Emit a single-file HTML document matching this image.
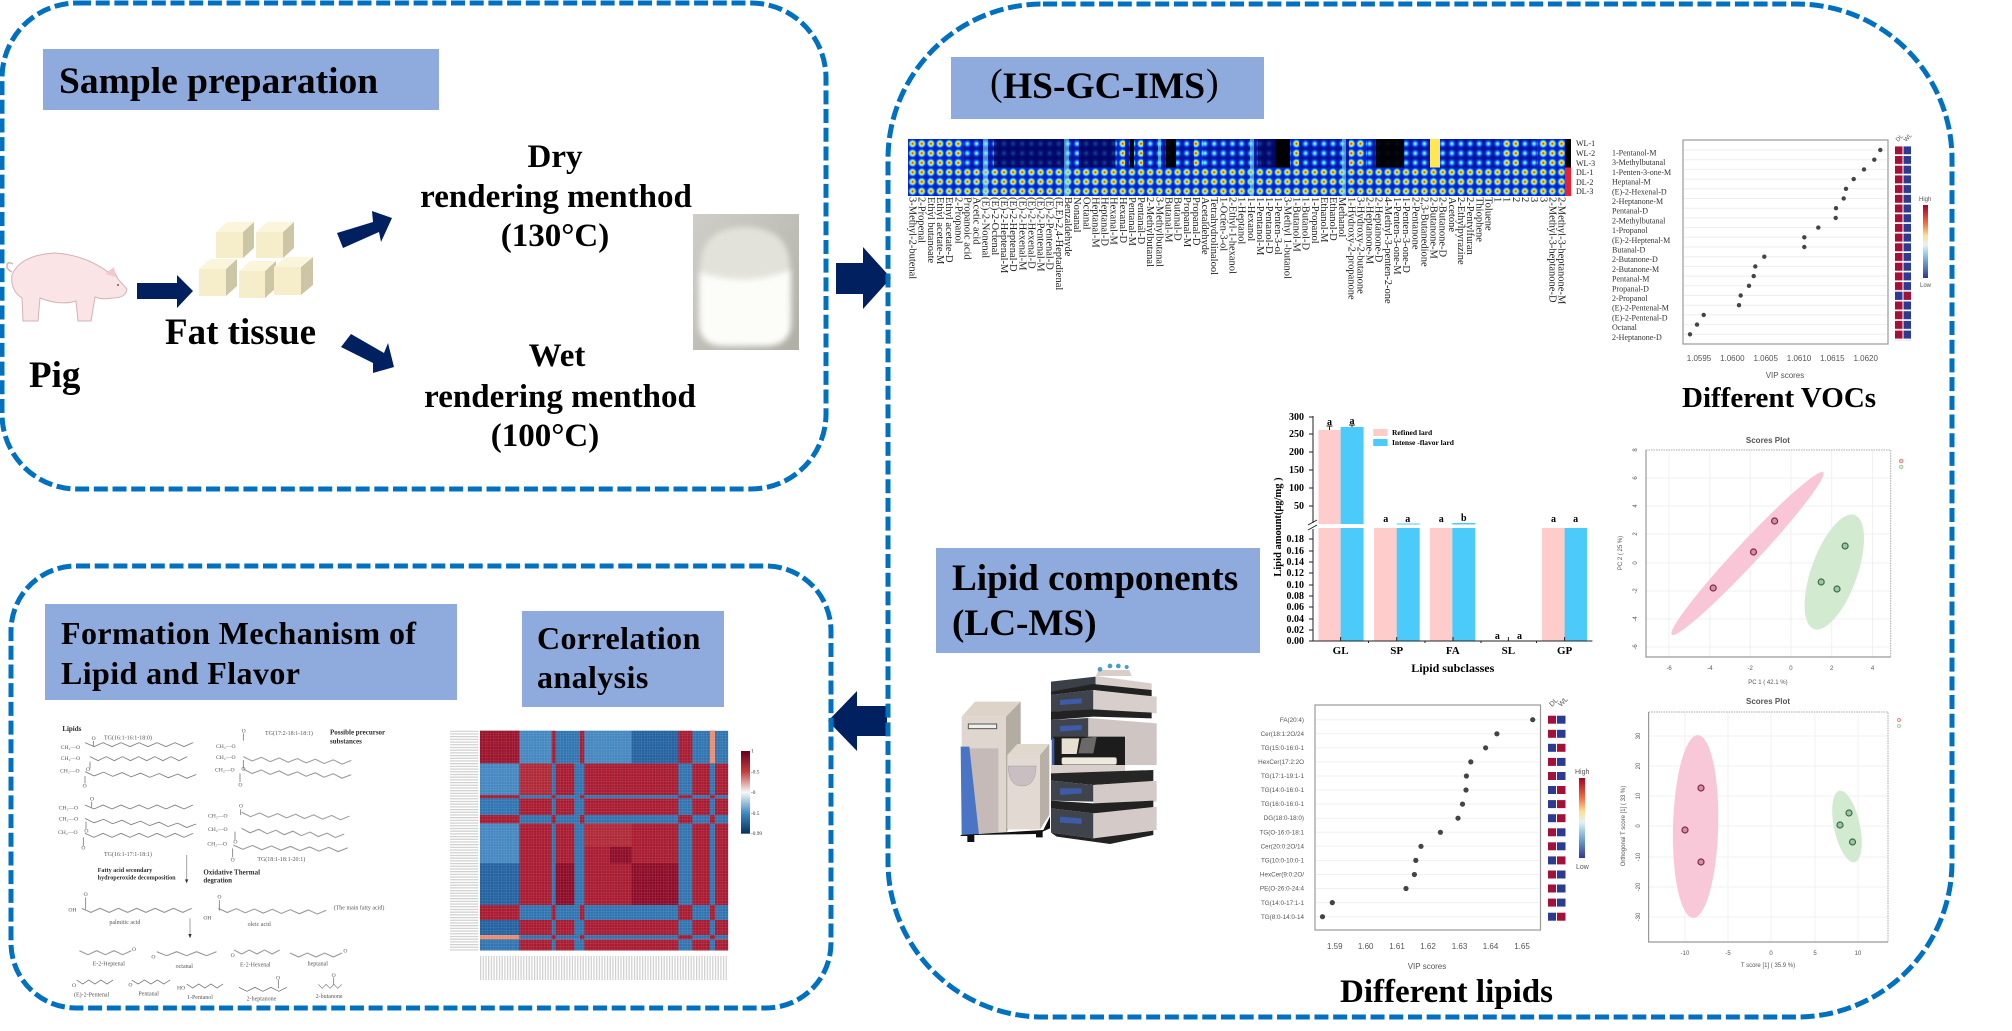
<!DOCTYPE html>
<html><head><meta charset="utf-8"><style>
html,body{margin:0;padding:0;background:#fff}
svg{display:block}
text{font-family:"Liberation Serif","Noto Serif CJK SC",serif}
.b{font-weight:bold;fill:#000}
.s,.s text{font-family:"Liberation Sans",sans-serif;fill:#555}
</style></head><body>
<svg width="2012" height="1031" viewBox="0 0 2012 1031" xmlns="http://www.w3.org/2000/svg">
<defs>
<radialGradient id="hot"><stop offset="0" stop-color="#e01010"/><stop offset=".2" stop-color="#ff8000"/><stop offset=".36" stop-color="#ffe820"/><stop offset=".56" stop-color="#60f0e8"/><stop offset=".8" stop-color="#1458f4"/><stop offset="1" stop-color="#0a20c8"/></radialGradient>
<radialGradient id="cool"><stop offset="0" stop-color="#d8ffff"/><stop offset=".32" stop-color="#38b4ff"/><stop offset=".65" stop-color="#0c38e0"/><stop offset="1" stop-color="#06149c"/></radialGradient>
<pattern id="hotP" patternUnits="userSpaceOnUse" x="908" y="139" width="9.14" height="9.5"><rect width="9.14" height="9.5" fill="url(#hot)"/></pattern>
<pattern id="coolP" patternUnits="userSpaceOnUse" x="908" y="139" width="9.14" height="9.5"><rect width="9.14" height="9.5" fill="url(#cool)"/></pattern>
<pattern id="vr" patternUnits="userSpaceOnUse" x="0" y="146.3" width="20" height="9.7"><rect width="20" height="8" fill="#a5103a"/></pattern>
<pattern id="vb" patternUnits="userSpaceOnUse" x="0" y="146.3" width="20" height="9.7"><rect width="20" height="8" fill="#2d3a94"/></pattern>
<pattern id="gr" patternUnits="userSpaceOnUse" x="120" y="32" width="8.1" height="8.1"><path d="M8.1 0V8.1H0" fill="none" stroke="#fff" stroke-width="1.1" opacity=".38"/></pattern>
<pattern id="lh" patternUnits="userSpaceOnUse" x="0" y="32" width="10" height="8.1"><rect width="10" height="3.6" fill="#666"/></pattern>
<pattern id="lv" patternUnits="userSpaceOnUse" x="120" y="0" width="8.1" height="10"><rect width="3.6" height="10" fill="#666"/></pattern>
<linearGradient id="cbR" x1="0" y1="0" x2="0" y2="1"><stop offset="0" stop-color="#a50026"/><stop offset=".25" stop-color="#f46d43"/><stop offset=".42" stop-color="#fee090"/><stop offset=".55" stop-color="#e0f3f8"/><stop offset=".75" stop-color="#74add1"/><stop offset="1" stop-color="#313695"/></linearGradient>
<linearGradient id="cbC" x1="0" y1="0" x2="0" y2="1"><stop offset="0" stop-color="#67001f"/><stop offset=".25" stop-color="#c43c3c"/><stop offset=".5" stop-color="#f7f7f7"/><stop offset=".75" stop-color="#3f8bc0"/><stop offset="1" stop-color="#053061"/></linearGradient>
<linearGradient id="mb" x1="0" y1="0" x2="1" y2="1"><stop offset="0" stop-color="#cfcec8"/><stop offset="1" stop-color="#b0afa6"/></linearGradient>
<filter id="bl"><feGaussianBlur stdDeviation="3"/></filter>
<path id="z" d="M0 0l27 12 27-12 27 12 27-12 27 12 27-12 27 12 27-12 27 12 27-12 27 12 27-12" fill="none" stroke="#666" stroke-width="2.4"/>
<path id="z6" d="M0 0l26 12 26-12 26 12 26-12 26 12 26-12" fill="none" stroke="#666" stroke-width="2.4"/>
<clipPath id="rowP"><rect x="120" y="32" width="745" height="98"/><rect x="120" y="225" width="745" height="10"/><rect x="120" y="285" width="745" height="25"/><rect x="120" y="555" width="745" height="45"/><rect x="120" y="645" width="745" height="13"/></clipPath>
<clipPath id="rowN"><rect x="120" y="130" width="745" height="95"/><rect x="120" y="235" width="745" height="50"/><rect x="120" y="310" width="745" height="245"/><rect x="120" y="600" width="745" height="45"/><rect x="120" y="658" width="745" height="34"/></clipPath>
</defs>

<!-- connector arrows -->
<polygon points="836,263 863,263 863,247 891,278 863,309 863,294 836,294" fill="#002060"/>
<polygon points="887,706 857,706 857,691 828,721 857,751 857,736 887,736" fill="#002060"/>

<!-- panels -->
<g fill="none" stroke="#0070c0" stroke-width="5" stroke-dasharray="14 4.7">
<rect x="2" y="3" width="824" height="486" rx="75" ry="75"/>
<rect x="888" y="4" width="1064" height="1013" rx="155" ry="155"/>
<rect x="11" y="566" width="820" height="442" rx="65" ry="65"/>
</g>

<!-- sample preparation -->
<rect x="43" y="49" width="396" height="61" fill="#8faadc"/>
<text x="59" y="93" class="b" font-size="37.5">Sample preparation</text>
<g>
<path d="M12 275Q20 255 55 253Q85 255 108 272L113 269L118 279L127 289Q126 298 113 298Q102 300 95 297L91 321H78L76 301Q60 306 40 298L38 321H23L22 298Q10 290 12 275Z" fill="#fbe4e6" stroke="#d2b3b8" stroke-width="1"/>
<path d="M12 272q-6-3-5-7t6-1" fill="none" stroke="#d2b3b8" stroke-width="1.5"/>
<path d="M105 274l9-7 2 10z" fill="#f3c9cf"/>
<circle cx="118" cy="285" r="1" fill="#755"/>
</g>
<polygon points="137,283 177,283 177,275 193,291 177,308 177,299 137,299" fill="#002060"/>
<g>
<g fill="#cdc6a6"><polygon points="243,232 254,222 254,248 243,258"/><polygon points="283,232 294,222 294,248 283,258"/><polygon points="226,269 237,259 237,286 226,296"/><polygon points="265,271 276,261 276,288 265,298"/><polygon points="301,267 313,257 313,285 301,295"/></g>
<g fill="#fbf5dc"><polygon points="216,232 227,222 254,222 243,232"/><polygon points="256,232 267,222 294,222 283,232"/><polygon points="199,269 210,259 237,259 226,269"/><polygon points="239,271 250,261 276,261 265,271"/><polygon points="274,267 285,257 313,257 301,267"/></g>
<g fill="#f6eecb"><rect x="216" y="232" width="27" height="26"/><rect x="256" y="232" width="27" height="26"/><rect x="199" y="269" width="27" height="27"/><rect x="239" y="271" width="26" height="27"/><rect x="274" y="267" width="27" height="28"/></g>
</g>
<text x="165" y="344" class="b" font-size="37">Fat tissue</text>
<text x="29" y="387" class="b" font-size="37">Pig</text>
<polygon points="337,233 373,222 372,211 392,218 381,242 379,232 343,248" fill="#002060"/>
<polygon points="351,334 384,353 388,343 394,367 373,373 373,363 341,347" fill="#002060"/>
<g class="b" font-size="33" text-anchor="middle">
<text x="555" y="167">Dry</text><text x="556" y="207">rendering menthod</text><text x="555" y="246">(130°C)</text>
<text x="557" y="366">Wet</text><text x="560" y="407">rendering menthod</text><text x="545" y="446">(100°C)</text>
</g>
<!-- milk photo -->
<rect x="693" y="214" width="106" height="136" fill="url(#mb)"/>
<g filter="url(#bl)">
<path d="M700 268Q700 228 745 227Q790 228 790 268V320Q790 345 765 345H725Q700 345 700 320Z" fill="#e3e2da"/>
<path d="M699 272Q745 288 791 270V322Q791 346 765 346H725Q699 346 699 322Z" fill="#fcfcf9"/>
</g>

<!-- HS-GC-IMS -->
<rect x="951" y="57" width="313" height="62" fill="#8faadc"/>
<text x="990" y="95" font-size="38" fill="#000">(</text>
<text x="1003" y="98" class="b" font-size="37.5">HS-GC-IMS</text>
<text x="1206" y="95" font-size="38" fill="#000">)</text>

<!-- fingerprint heatmap -->
<rect x="908" y="139" width="657" height="57" fill="#0a20c8"/>
<rect x="908" y="139" width="657" height="28.5" fill="url(#coolP)"/>
<rect x="908" y="167.5" width="657" height="28.5" fill="url(#hotP)"/>
<g fill="url(#hotP)">
<rect x="908" y="139" width="56" height="28.5"/><rect x="1116" y="139" width="9" height="28.5"/><rect x="1134" y="139" width="9" height="28.5"/><rect x="1194" y="139" width="9.2" height="28.5"/><rect x="1349" y="139" width="18" height="28.5"/><rect x="1501" y="139" width="18" height="28.5"/><rect x="1537" y="139" width="28" height="28.5"/><rect x="1290" y="139" width="9" height="28.5"/>
</g>
<g fill="#00045a" opacity=".78"><rect x="994" y="139" width="71" height="28.5"/><rect x="1079" y="139" width="36" height="28.5"/><rect x="1258" y="139" width="32" height="28.5"/></g>
<g fill="#000" opacity=".95"><rect x="1166" y="139" width="10" height="28.5"/><rect x="1130" y="139" width="4" height="28.5"/><rect x="1376" y="139" width="28" height="28.5"/><rect x="1275" y="139" width="15" height="28.5"/></g>
<g fill="#7ce8f0" opacity=".55"><rect x="1064" y="139" width="5" height="57"/><rect x="983" y="139" width="5" height="57"/><rect x="1158" y="139" width="3" height="28.5"/><rect x="1250" y="139" width="4" height="57"/><rect x="1342" y="139" width="4" height="57"/></g>
<rect x="1430" y="139" width="10" height="28.5" fill="#ffe850"/>
<rect x="1565" y="139" width="6" height="28.5" fill="#000"/><rect x="1565" y="167.5" width="6" height="28.5" fill="#ee2030"/>
<g font-size="8" fill="#222"><text x="1576" y="146">WL-1</text><text x="1576" y="156">WL-2</text><text x="1576" y="166">WL-3</text><text x="1576" y="175">DL-1</text><text x="1576" y="185">DL-2</text><text x="1576" y="194">DL-3</text></g>
<g transform="translate(908,197) rotate(90)" font-size="10.5" fill="#222">
<text y="-1.6">3-Methyl-2-butenal</text><text y="-10.7">2-Propenal</text><text y="-19.9">Ethyl butanoate</text><text y="-29">Ethyl acetate-M</text><text y="-38.2">Ethyl acetate-D</text><text y="-47.3">2-Propanol</text><text y="-56.4">Propanoic acid</text><text y="-65.6">Acetic acid</text><text y="-74.7">(E)-2-Nonenal</text><text y="-83.9">(E)-2-Octenal</text><text y="-93">(E)-2-Heptenal-M</text><text y="-102.1">(E)-2-Heptenal-D</text><text y="-111.3">(E)-2-Hexenal-M</text><text y="-120.4">(E)-2-Hexenal-D</text><text y="-129.6">(E)-2-Pentenal-M</text><text y="-138.7">(E)-2-Pentenal-D</text><text y="-147.8">(E,E)-2,4-Heptadienal</text><text y="-157">Benzaldehyde</text><text y="-166.1">Nonanal</text><text y="-175.3">Octanal</text><text y="-184.4">Heptanal-M</text><text y="-193.5">Heptanal-D</text><text y="-202.7">Hexanal-M</text><text y="-211.8">Hexanal-D</text><text y="-221">Pentanal-M</text><text y="-230.1">Pentanal-D</text><text y="-239.2">2-Methylbutanal</text><text y="-248.4">3-Methylbutanal</text><text y="-257.5">Butanal-M</text><text y="-266.7">Butanal-D</text><text y="-275.8">Propanal-M</text><text y="-284.9">Propanal-D</text><text y="-294.1">Acetaldehyde</text><text y="-303.2">Tetrahydrolinalool</text><text y="-312.4">1-Octen-3-ol</text><text y="-321.5">2-Ethyl-1-hexanol</text><text y="-330.6">1-Heptanol</text><text y="-339.8">1-Hexanol</text><text y="-348.9">1-Pentanol-M</text><text y="-358.1">1-Pentanol-D</text><text y="-367.2">1-Penten-3-ol</text><text y="-376.3">3-Methyl 1-butanol</text><text y="-385.5">1-Butanol-M</text><text y="-394.6">1-Butanol-D</text><text y="-403.8">1-Propanol</text><text y="-412.9">Ethanol-M</text><text y="-422">Ethanol-D</text><text y="-431.2">Methanol</text><text y="-440.3">1-Hydroxy-2-propanone</text><text y="-449.5">3-Hydroxy-2-butanone</text><text y="-458.6">2-Heptanone-M</text><text y="-467.7">2-Heptanone-D</text><text y="-476.9">4-Methyl-3-penten-2-one</text><text y="-486">1-Penten-3-one-M</text><text y="-495.2">1-Penten-3-one-D</text><text y="-504.3">2-Pentanone</text><text y="-513.4">2,3-Butanedione</text><text y="-522.6">2-Butanone-M</text><text y="-531.7">2-Butanone-D</text><text y="-540.9">Acetone</text><text y="-550">2-Ethylpyrazine</text><text y="-559.1">2-Pentylfuran</text><text y="-568.3">Thiophene</text><text y="-577.4">Toluene</text><text y="-586.6">1</text><text y="-595.7">1</text><text y="-604.8">2</text><text y="-614">2</text><text y="-623.1">3</text><text y="-632.3">3</text><text y="-641.4">2-Methyl-3-heptanone-D</text><text y="-650.5">2-Methyl-3-heptanone-M</text>
</g>

<!-- VOC VIP -->
<rect x="1683" y="140" width="205" height="204" fill="#fff" stroke="#999" stroke-width="1.2"/>
<g stroke="#eee" stroke-width="1"><path d="M1684 150H1887M1684 159.7H1887M1684 169.4H1887M1684 179.1H1887M1684 188.8H1887M1684 198.5H1887M1684 208.2H1887M1684 217.9H1887M1684 227.6H1887M1684 237.3H1887M1684 247H1887M1684 256.7H1887M1684 266.4H1887M1684 276.1H1887M1684 285.8H1887M1684 295.5H1887M1684 305.2H1887M1684 314.9H1887M1684 324.6H1887M1684 334.3H1887"/></g>
<g fill="#444"><circle cx="1880.3" cy="150" r="2.2"/><circle cx="1874.3" cy="159.7" r="2.2"/><circle cx="1864" cy="169.4" r="2.2"/><circle cx="1853.7" cy="179.1" r="2.2"/><circle cx="1846" cy="188.8" r="2.2"/><circle cx="1843.7" cy="198.5" r="2.2"/><circle cx="1836" cy="208.2" r="2.2"/><circle cx="1835.7" cy="217.9" r="2.2"/><circle cx="1818.3" cy="227.6" r="2.2"/><circle cx="1804.3" cy="237.3" r="2.2"/><circle cx="1804.3" cy="247" r="2.2"/><circle cx="1764.3" cy="256.7" r="2.2"/><circle cx="1755.3" cy="266.4" r="2.2"/><circle cx="1753.7" cy="276.1" r="2.2"/><circle cx="1749" cy="285.8" r="2.2"/><circle cx="1740.7" cy="295.5" r="2.2"/><circle cx="1739" cy="305.2" r="2.2"/><circle cx="1703.7" cy="314.9" r="2.2"/><circle cx="1697" cy="324.6" r="2.2"/><circle cx="1690" cy="334.3" r="2.2"/></g>
<g font-size="8" fill="#333"><text x="1612" y="155.5">1-Pentanol-M</text><text x="1612" y="165.2">3-Methylbutanal</text><text x="1612" y="174.9">1-Penten-3-one-M</text><text x="1612" y="184.6">Heptanal-M</text><text x="1612" y="194.3">(E)-2-Hexenal-D</text><text x="1612" y="204">2-Heptanone-M</text><text x="1612" y="213.7">Pentanal-D</text><text x="1612" y="223.4">2-Methylbutanal</text><text x="1612" y="233.1">1-Propanol</text><text x="1612" y="242.8">(E)-2-Heptenal-M</text><text x="1612" y="252.5">Butanal-D</text><text x="1612" y="262.2">2-Butanone-D</text><text x="1612" y="271.9">2-Butanone-M</text><text x="1612" y="281.6">Pentanal-M</text><text x="1612" y="291.3">Propanal-D</text><text x="1612" y="301">2-Propanol</text><text x="1612" y="310.7">(E)-2-Pentenal-M</text><text x="1612" y="320.4">(E)-2-Pentenal-D</text><text x="1612" y="330.1">Octanal</text><text x="1612" y="339.8">2-Heptanone-D</text></g>
<rect x="1895" y="146.3" width="7.5" height="194" fill="url(#vr)"/><rect x="1903.5" y="146.3" width="7.5" height="194" fill="url(#vb)"/>
<rect x="1895" y="291.8" width="7.5" height="8" fill="#2d3a94"/><rect x="1903.5" y="291.8" width="7.5" height="8" fill="#a5103a"/>
<rect x="1923" y="205" width="5" height="73" fill="url(#cbR)"/>
<g class="s" font-size="6"><text x="1919" y="201">High</text><text x="1920" y="287">Low</text><text transform="translate(1898,142) rotate(-45)">DL</text><text transform="translate(1906,142) rotate(-45)">WL</text></g>
<g class="s" font-size="8" text-anchor="middle"><text x="1699" y="361">1.0595</text><text x="1732.3" y="361">1.0600</text><text x="1765.7" y="361">1.0605</text><text x="1799" y="361">1.0610</text><text x="1832.3" y="361">1.0615</text><text x="1865.7" y="361">1.0620</text><text x="1785" y="378">VIP scores</text></g>
<text x="1682" y="407" class="b" font-size="29">Different VOCs</text>

<!-- bar chart -->
<g fill="#ffcccc"><rect x="1318.5" y="430" width="22" height="94"/><rect x="1318.5" y="528" width="22" height="113"/><rect x="1374" y="528" width="22.7" height="113"/><rect x="1429.8" y="528" width="22.5" height="113"/><rect x="1542" y="528" width="22.6" height="113"/></g>
<g fill="#4acbf9"><rect x="1340.6" y="427" width="23" height="97"/><rect x="1340.6" y="528" width="23" height="113"/><rect x="1396.7" y="528" width="23" height="113"/><rect x="1452.3" y="528" width="23" height="113"/><rect x="1564.6" y="528" width="22.4" height="113"/><rect x="1396.7" y="523.5" width="23" height="1"/><rect x="1452.3" y="523" width="23" height="1.5"/></g>
<path d="M1313 416V523M1313 529V641H1592.4M1313 417h-4M1313 434h-4M1313 452h-4M1313 470h-4M1313 488h-4M1313 506h-4M1313 539h-4M1313 551h-4M1313 562h-4M1313 573h-4M1313 585h-4M1313 596h-4M1313 607h-4M1313 619h-4M1313 630h-4M1313 641h-4M1340.6 641v-4M1396.7 641v-4M1453 641v-4M1508.4 641v-4M1564.6 641v-4M1368.5 641v2M1425 641v2M1481 641v2M1536.5 641v2M1308 525l9-5M1308 530l9-5M1329.5 426v4M1326.5 426h6M1352 425v2M1349 425h6" fill="none" stroke="#222" stroke-width="1"/>
<g class="b" font-size="10" text-anchor="end"><text x="1304" y="420">300</text><text x="1304" y="437">250</text><text x="1304" y="455">200</text><text x="1304" y="473">150</text><text x="1304" y="491">100</text><text x="1304" y="509">50</text><text x="1304" y="542">0.18</text><text x="1304" y="554">0.16</text><text x="1304" y="565">0.14</text><text x="1304" y="576">0.12</text><text x="1304" y="588">0.10</text><text x="1304" y="599">0.08</text><text x="1304" y="610">0.06</text><text x="1304" y="622">0.04</text><text x="1304" y="633">0.02</text><text x="1304" y="644">0.00</text></g>
<g class="b" font-size="10" text-anchor="middle"><text x="1329.5" y="425">a</text><text x="1352" y="424">a</text><text x="1385.7" y="522">a</text><text x="1407.7" y="522">a</text><text x="1441.3" y="522">a</text><text x="1463.8" y="521">b</text><text x="1497.4" y="639">a</text><text x="1519.5" y="639">a</text><text x="1553.5" y="522">a</text><text x="1575.6" y="522">a</text></g>
<g class="b" font-size="11" text-anchor="middle"><text x="1340.6" y="654">GL</text><text x="1396.7" y="654">SP</text><text x="1452.8" y="654">FA</text><text x="1508.4" y="654">SL</text><text x="1564.6" y="654">GP</text></g>
<text x="1452.8" y="672" class="b" font-size="12" text-anchor="middle">Lipid subclasses</text>
<text transform="translate(1281,527) rotate(-90)" class="b" font-size="10.5" text-anchor="middle">Lipid amount(μg/mg )</text>
<rect x="1373.2" y="429" width="14.4" height="7" fill="#ffcccc"/><rect x="1373.2" y="439" width="14.4" height="7" fill="#4acbf9"/>
<text x="1392" y="435" class="b" font-size="7.5" fill="#222">Refined lard</text><text x="1392" y="445" class="b" font-size="7.5" fill="#222">Intense -flavor lard</text>

<!-- PCA -->
<g class="s"><text x="1767.9" y="443" font-size="8" font-weight="bold" text-anchor="middle">Scores Plot</text></g>
<path d="M1669 450V657M1709.9 450V657M1750.2 450V657M1790.9 450V657M1831.7 450V657M1872.5 450V657M1646 478H1890.7M1646 506H1890.7M1646 534H1890.7M1646 563H1890.7M1646 591H1890.7M1646 619H1890.7M1646 647H1890.7" stroke="#f0f0f0" stroke-width="1"/>
<ellipse cx="1747.5" cy="553.5" rx="111" ry="11" transform="rotate(-47 1747.5 553.5)" fill="#f8c6d6"/>
<ellipse cx="1834.3" cy="572" rx="60.5" ry="23" transform="rotate(-70.3 1834.3 572)" fill="#d2ead0"/>
<path d="M1646 450V657H1890.7" fill="none" stroke="#999" stroke-width="1.2"/><path d="M1646 450H1890.7V657" fill="none" stroke="#aaa" stroke-width="1" stroke-dasharray="1.5 1"/>
<g fill="#d98ca6" stroke="#7a2b48" stroke-width="1.2"><circle cx="1713.2" cy="588" r="3"/><circle cx="1753.5" cy="552" r="3"/><circle cx="1774.6" cy="521" r="3"/></g>
<g fill="#9cc79c" stroke="#3b6b4b" stroke-width="1.2"><circle cx="1821.2" cy="582" r="3"/><circle cx="1837" cy="589" r="3"/><circle cx="1845.1" cy="546" r="3"/></g>
<circle cx="1901.2" cy="461" r="1.8" fill="#f4c6d6" stroke="#d88"/><circle cx="1901.2" cy="467" r="1.8" fill="#d8ecd6" stroke="#ac9"/>
<g class="s" font-size="6" text-anchor="middle"><text x="1669" y="670">-6</text><text x="1709.9" y="670">-4</text><text x="1750.2" y="670">-2</text><text x="1790.9" y="670">0</text><text x="1831.7" y="670">2</text><text x="1872.5" y="670">4</text><text x="1767.9" y="684">PC 1 ( 42.1 %)</text><text transform="translate(1622,553) rotate(-90)">PC 2 ( 25 %)</text>
<text transform="translate(1637,450) rotate(-90)">8</text><text transform="translate(1637,478) rotate(-90)">6</text><text transform="translate(1637,506) rotate(-90)">4</text><text transform="translate(1637,534) rotate(-90)">2</text><text transform="translate(1637,563) rotate(-90)">0</text><text transform="translate(1637,591) rotate(-90)">-2</text><text transform="translate(1637,619) rotate(-90)">-4</text><text transform="translate(1637,647) rotate(-90)">-6</text></g>

<!-- Lipid components -->
<rect x="936" y="548" width="324" height="105" fill="#8faadc"/>
<text x="952" y="590" class="b" font-size="37.2">Lipid components</text>
<text x="952" y="635" class="b" font-size="37.2">(LC-MS)</text>
<g transform="translate(930,540) scale(.33333)">
<polygon points="95,530 135,485 272,485 228,530" fill="#ddd3c8"/><polygon points="228,530 272,485 272,800 228,880" fill="#b3aca2"/><rect x="95" y="530" width="133" height="350" fill="#ded6cf"/>
<rect x="118" y="625" width="87" height="255" fill="#c5bab8"/><polygon points="92,620 118,620 147,885 95,885" fill="#4a75c4"/><rect x="115" y="552" width="85" height="14" fill="#f0eeea" stroke="#555" stroke-width="3"/>
<polygon points="92,885 340,870 360,830 360,865 338,875 338,892 318,892 318,882 133,885 133,906 112,906 112,888 92,888" fill="#111"/>
<polygon points="232,645 262,612 358,612 330,645" fill="#e0d8cc"/><polygon points="330,645 358,612 358,825 330,868" fill="#b8b0a6"/><rect x="232" y="645" width="98" height="223" fill="#e2dad2"/>
<path d="M235 678H318Q318 738 276 738Q235 738 235 678Z" fill="#c8bfc2" stroke="#888" stroke-width="1"/>
<path d="M498 408L505 390H598L605 408Z" fill="#d8cfc8"/><g fill="#4a9bc8"><circle cx="510" cy="388" r="7"/><circle cx="540" cy="378" r="7"/><circle cx="565" cy="378" r="7"/><circle cx="590" cy="381" r="6"/></g>
<polygon points="363,425 497,410 497,440 363,455" fill="#3b4048"/><polygon points="497,408 665,430 665,452 497,432" fill="#d8cfcb"/><polygon points="363,455 490,432 665,450 665,472 490,450 363,465" fill="#222"/>
<polygon points="363,465 490,450 490,510 363,515" fill="#3e434c"/><polygon points="490,450 680,470 680,520 490,510" fill="#d8cfcc"/><polygon points="390,480 455,475 455,490 390,495" fill="#3f5ba8"/>
<polygon points="363,515 490,508 665,518 665,535 490,530 363,540" fill="#222"/>
<polygon points="363,540 475,534 475,590 363,600" fill="#3e434c"/><polygon points="475,534 680,550 680,675 475,675" fill="#cfc5c2"/><polygon points="390,558 455,555 455,570 390,575" fill="#3f5ba8"/>
<rect x="370" y="590" width="215" height="85" fill="#1c1c1c"/><polygon points="395,595 448,595 440,642 395,642" fill="#e5e0cf"/><polygon points="455,595 500,590 490,640 445,640" fill="#6b6868"/>
<rect x="365" y="595" width="8" height="80" fill="#3f5ba8"/><rect x="395" y="652" width="165" height="22" rx="6" fill="#eeeade"/><rect x="363" y="675" width="222" height="25" fill="#d8cfcc"/>
<polygon points="363,700 670,690 670,725 490,735 363,722" fill="#262626"/>
<polygon points="363,722 490,735 490,785 363,782" fill="#3e434c"/><polygon points="490,735 680,722 680,785 490,790" fill="#d4cbc8"/><polygon points="390,745 455,745 455,760 390,765" fill="#3f5ba8"/>
<polygon points="363,782 490,790 670,782 670,808 490,820 363,805" fill="#222"/>
<polygon points="363,805 490,820 490,895 363,878" fill="#3e434c"/><polygon points="490,820 680,800 680,870 490,895" fill="#d4cbc8"/><polygon points="390,830 455,835 455,852 390,848" fill="#3f5ba8"/>
<polygon points="363,878 490,895 670,872 670,885 540,912 380,890" fill="#222"/>
</g>

<!-- lipid VIP -->
<rect x="1315" y="705" width="225.5" height="225" fill="#fff" stroke="#999" stroke-width="1.2"/>
<path d="M1316 719.7H1540M1316 733.8H1540M1316 747.8H1540M1316 761.9H1540M1316 776H1540M1316 790H1540M1316 804.1H1540M1316 818.2H1540M1316 832.3H1540M1316 846.3H1540M1316 860.4H1540M1316 874.5H1540M1316 888.5H1540M1316 902.6H1540M1316 916.7H1540" stroke="#f0f0f0"/>
<g fill="#444"><circle cx="1532.7" cy="719.7" r="2.6"/><circle cx="1496.9" cy="733.8" r="2.6"/><circle cx="1485.6" cy="747.8" r="2.6"/><circle cx="1470.8" cy="761.9" r="2.6"/><circle cx="1466.4" cy="776" r="2.6"/><circle cx="1466" cy="790" r="2.6"/><circle cx="1462.5" cy="804.1" r="2.6"/><circle cx="1458" cy="818.2" r="2.6"/><circle cx="1440.4" cy="832.3" r="2.6"/><circle cx="1421" cy="846.3" r="2.6"/><circle cx="1415.8" cy="860.4" r="2.6"/><circle cx="1414.4" cy="874.5" r="2.6"/><circle cx="1406" cy="888.5" r="2.6"/><circle cx="1332.3" cy="902.6" r="2.6"/><circle cx="1322.5" cy="916.7" r="2.6"/></g>
<g class="s" font-size="6.3" text-anchor="end"><text x="1304" y="722">FA(20:4)</text><text x="1304" y="736">Cer(18:1:2O/24</text><text x="1304" y="750">TG(15:0-16:0-1</text><text x="1304" y="764">HexCer(17:2:2O</text><text x="1304" y="778">TG(17:1-19:1-1</text><text x="1304" y="792">TG(14:0-16:0-1</text><text x="1304" y="806">TG(16:0-16:0-1</text><text x="1304" y="820">DG(18:0-18:0)</text><text x="1304" y="834.5">TG(O-16:0-18:1</text><text x="1304" y="848.5">Cer(20:0:2O/14</text><text x="1304" y="862.5">TG(10:0-10:0-1</text><text x="1304" y="876.5">HexCer(9:0:2O/</text><text x="1304" y="890.5">PE(O-26:0-24:4</text><text x="1304" y="905">TG(14:0-17:1-1</text><text x="1304" y="919">TG(8:0-14:0-14</text></g>
<g fill="#a5103a"><rect x="1548" y="715.7" width="8" height="8"/><rect x="1548" y="729.8" width="8" height="8"/><rect x="1557" y="743.8" width="8.5" height="8"/><rect x="1548" y="757.9" width="8" height="8"/><rect x="1548" y="772" width="8" height="8"/><rect x="1557" y="786" width="8.5" height="8"/><rect x="1557" y="800.1" width="8.5" height="8"/><rect x="1557" y="814.2" width="8.5" height="8"/><rect x="1548" y="828.3" width="8" height="8"/><rect x="1548" y="842.3" width="8" height="8"/><rect x="1557" y="856.4" width="8.5" height="8"/><rect x="1548" y="870.5" width="8" height="8"/><rect x="1548" y="884.5" width="8" height="8"/><rect x="1548" y="898.6" width="8" height="8"/><rect x="1557" y="912.7" width="8.5" height="8"/></g>
<g fill="#2d3a94"><rect x="1557" y="715.7" width="8.5" height="8"/><rect x="1557" y="729.8" width="8.5" height="8"/><rect x="1548" y="743.8" width="8" height="8"/><rect x="1557" y="757.9" width="8.5" height="8"/><rect x="1557" y="772" width="8.5" height="8"/><rect x="1548" y="786" width="8" height="8"/><rect x="1548" y="800.1" width="8" height="8"/><rect x="1548" y="814.2" width="8" height="8"/><rect x="1557" y="828.3" width="8.5" height="8"/><rect x="1557" y="842.3" width="8.5" height="8"/><rect x="1548" y="856.4" width="8" height="8"/><rect x="1557" y="870.5" width="8.5" height="8"/><rect x="1557" y="884.5" width="8.5" height="8"/><rect x="1557" y="898.6" width="8.5" height="8"/><rect x="1548" y="912.7" width="8" height="8"/></g>
<rect x="1579" y="778" width="6" height="80" fill="url(#cbR)"/>
<g class="s" font-size="7"><text x="1575" y="774">High</text><text x="1576" y="869">Low</text><text transform="translate(1552,707) rotate(-45)">DL</text><text transform="translate(1561,707) rotate(-45)">WL</text></g>
<g class="s" font-size="8" text-anchor="middle"><text x="1334.8" y="949">1.59</text><text x="1365.7" y="949">1.60</text><text x="1397" y="949">1.61</text><text x="1428" y="949">1.62</text><text x="1459.5" y="949">1.63</text><text x="1490.5" y="949">1.64</text><text x="1522" y="949">1.65</text><text x="1427" y="969">VIP scores</text></g>
<text x="1340" y="1002" class="b" font-size="33">Different lipids</text>

<!-- OPLS -->
<g class="s"><text x="1768" y="704" font-size="8" font-weight="bold" text-anchor="middle">Scores Plot</text></g>
<path d="M1685 712V942M1728 712V942M1771 712V942M1815 712V942M1858 712V942M1649 736H1888M1649 766H1888M1649 796H1888M1649 826H1888M1649 857H1888M1649 887H1888M1649 917H1888" stroke="#f2f2f2"/>
<ellipse cx="1695.6" cy="826.5" rx="22.6" ry="91.5" transform="rotate(1.5 1695.6 826.5)" fill="#f8c8d8"/>
<ellipse cx="1847" cy="826.5" rx="13" ry="36.5" transform="rotate(-12 1847 826.5)" fill="#d2ead0"/>
<path d="M1648.6 712V942H1888" fill="none" stroke="#999" stroke-width="1.2"/><path d="M1648.6 712H1888V942" fill="none" stroke="#aaa" stroke-width="1" stroke-dasharray="1.5 1"/>
<g fill="#d98ca6" stroke="#7a2b48" stroke-width="1.2"><circle cx="1701" cy="788" r="3"/><circle cx="1685" cy="830" r="3"/><circle cx="1701" cy="862" r="3"/></g>
<g fill="#9cc79c" stroke="#3b6b4b" stroke-width="1.2"><circle cx="1849" cy="813" r="3"/><circle cx="1840" cy="825" r="3"/><circle cx="1852.5" cy="842" r="3"/></g>
<circle cx="1899" cy="720" r="1.5" fill="#fff" stroke="#d88"/><circle cx="1899" cy="726" r="1.5" fill="#fff" stroke="#ac9"/>
<g class="s" font-size="6" text-anchor="middle"><text x="1685" y="955">-10</text><text x="1728" y="955">-5</text><text x="1771" y="955">0</text><text x="1815" y="955">5</text><text x="1858" y="955">10</text><text x="1768" y="967">T score [1] ( 35.9 %)</text><text transform="translate(1625,826) rotate(-90)">Orthogonal T score [1] ( 33 %)</text>
<text transform="translate(1640,736) rotate(-90)">30</text><text transform="translate(1640,766) rotate(-90)">20</text><text transform="translate(1640,796) rotate(-90)">10</text><text transform="translate(1640,826) rotate(-90)">0</text><text transform="translate(1640,857) rotate(-90)">-10</text><text transform="translate(1640,887) rotate(-90)">-20</text><text transform="translate(1640,917) rotate(-90)">-30</text></g>

<!-- Formation mechanism -->
<rect x="45" y="604" width="412" height="96" fill="#8faadc"/>
<text x="61" y="644" class="b" font-size="32" letter-spacing=".4">Formation Mechanism of</text>
<text x="61" y="684" class="b" font-size="32" letter-spacing=".4">Lipid and Flavor</text>
<rect x="522" y="611" width="202" height="96" fill="#8faadc"/>
<text x="537" y="649" class="b" font-size="32" letter-spacing=".4">Correlation</text>
<text x="537" y="688" class="b" font-size="32" letter-spacing=".4">analysis</text>

<!-- chemistry -->
<g transform="translate(30,720) scale(.33333)" font-size="18" fill="#444" opacity=".9">
<use href="#z" transform="translate(165,68)"/><use href="#z" transform="translate(180,110) scale(.9,1)"/><use href="#z" transform="translate(165,155) scale(1.03,1) rotate(1.5)"/>
<use href="#z" transform="translate(640,110) rotate(2)"/><use href="#z" transform="translate(640,147) rotate(3)"/>
<use href="#z" transform="translate(165,255)"/><use href="#z" transform="translate(165,295) scale(1.03,1) rotate(3)"/><use href="#z" transform="translate(165,340)"/>
<use href="#z" transform="translate(635,277) rotate(2)"/><use href="#z" transform="translate(635,325) scale(.95,1) rotate(3)"/><use href="#z" transform="translate(610,375) scale(1.06,1) rotate(1.5)"/>
<use href="#z" transform="translate(155,565) scale(1.02,1)"/><use href="#z" transform="translate(565,565) rotate(1)"/>
<use href="#z6" transform="translate(148,692)"/><use href="#z6" transform="translate(380,695) scale(1.15,1)"/><use href="#z6" transform="translate(612,690) scale(.88,1)"/><use href="#z6" transform="translate(780,699)"/>
<use href="#z6" transform="translate(140,780) scale(.7,1)"/><use href="#z6" transform="translate(305,780) scale(.74,1)"/><use href="#z6" transform="translate(470,792) scale(.7,1)"/><use href="#z6" transform="translate(627,802) scale(.92,1)"/><use href="#z6" transform="translate(865,793) scale(.45,1)"/>
<path d="M470 405V480M480 595V645" stroke="#999" stroke-width="3" fill="none"/><path d="M465 478h10l-5 12zM475 642h10l-5 13z" fill="#222"/>
<path d="M190 63V78M180 125V145M165 168V190M640 40V62M640 120V145M630 160V186M185 245V262M168 305V328M160 352V378M632 268V285M615 335V360M608 385V412M167 532V568M568 540V572M745 780V805M911 772V795" stroke="#666" stroke-width="2.4" fill="none"/>
<g font-size="17"><text x="92" y="87">CH₂—O</text><text x="92" y="120">CH₂—O</text><text x="90" y="158">CH₂—O</text><text x="558" y="84">CH₂—O</text><text x="558" y="117">CH₂—O</text><text x="555" y="155">CH₂—O</text><text x="86" y="268">CH₂—O</text><text x="86" y="302">CH₂—O</text><text x="84" y="342">CH₂—O</text><text x="534" y="293">CH₂—O</text><text x="534" y="333">CH₂—O</text><text x="532" y="377">CH₂—O</text>
<text x="185" y="60">O</text><text x="168" y="153">O</text><text x="158" y="203">O</text><text x="635" y="37">O</text><text x="634" y="152">O</text><text x="625" y="200">O</text><text x="180" y="242">O</text><text x="163" y="338">O</text><text x="154" y="388">O</text><text x="627" y="262">O</text><text x="610" y="370">O</text><text x="602" y="425">O</text><text x="161" y="528">O</text><text x="562" y="535">O</text><text x="115" y="574">OH</text><text x="520" y="598">OH</text><text x="306" y="693">O</text><text x="364" y="716">O</text><text x="602" y="711">O</text><text x="940" y="698">O</text><text x="126" y="801">O</text><text x="295" y="799">O</text><text x="441" y="808">HO</text><text x="738" y="778">O</text><text x="905" y="771">O</text></g>
<g font-weight="bold" fill="#111" font-size="21"><text x="97" y="33">Lipids</text><text x="900" y="43">Possible precursor</text><text x="900" y="70">substances</text><text x="203" y="456" font-size="18.5">Fatty acid secondary</text><text x="203" y="479" font-size="18.5">hydroperoxide decomposition</text><text x="520" y="463">Oxidative Thermal</text><text x="520" y="487">degration</text></g>
<text x="222" y="58">TG(16:1-16:1-18:0)</text><text x="705" y="45">TG(17:2-18:1-18:1)</text><text x="222" y="408">TG(16:1-17:1-18:1)</text><text x="682" y="423">TG(18:1-18:1-20:1)</text><text x="238" y="612">palmitic acid</text><text x="653" y="618">oleic acid</text><text x="911" y="568">(The main fatty acid)</text><text x="188" y="737">E-2-Heptenal</text><text x="437" y="744">octanal</text><text x="630" y="739">E-2-Hexenal</text><text x="833" y="737">heptanal</text><text x="132" y="829">(E)-2-Pentenal</text><text x="325" y="827">Pentanal</text><text x="471" y="837">1-Pentanol</text><text x="650" y="842">2-heptanone</text><text x="857" y="834">2-butanone</text>
</g>

<!-- correlation heatmap -->
<g transform="translate(440,720) scale(.33333)">
<rect x="30" y="32" width="85" height="660" fill="url(#lh)" opacity=".32"/>
<rect x="120" y="708" width="745" height="72" fill="url(#lv)" opacity=".32"/>
<g clip-path="url(#rowP)">
<rect x="120" y="32" width="745" height="660" fill="#2f74b0"/>
<g fill="#a81a30"><rect x="120" y="32" width="118" height="660"/><rect x="335" y="32" width="12" height="660"/><rect x="420" y="32" width="13" height="660"/><rect x="715" y="32" width="42" height="660"/><rect x="810" y="32" width="15" height="660"/></g>
</g>
<g clip-path="url(#rowN)">
<rect x="120" y="32" width="745" height="660" fill="#a81a30"/>
<g fill="#2f74b0"><rect x="120" y="32" width="118" height="660"/><rect x="335" y="32" width="12" height="660"/><rect x="403" y="32" width="30" height="660"/><rect x="715" y="32" width="42" height="660"/><rect x="810" y="32" width="15" height="660"/></g>
</g>
<g fill="#4a8cc4" opacity=".8"><rect x="120" y="130" width="118" height="95"/><rect x="120" y="310" width="118" height="120"/><rect x="238" y="32" width="97" height="98"/><rect x="433" y="32" width="142" height="98"/></g>
<g fill="#1e5a9a" opacity=".7"><rect x="120" y="430" width="118" height="125"/><rect x="575" y="32" width="140" height="98"/><rect x="120" y="600" width="118" height="45"/></g>
<g fill="#8c0a26"><rect x="575" y="430" width="140" height="125"/><rect x="120" y="32" width="118" height="98" opacity=".5"/><rect x="347" y="430" width="56" height="125"/><rect x="510" y="380" width="65" height="50"/></g>
<g fill="#c04a48" opacity=".3"><rect x="238" y="130" width="97" height="95"/><rect x="433" y="310" width="142" height="70"/></g>
<rect x="120" y="645" width="118" height="13" fill="#e88c70"/><rect x="810" y="32" width="15" height="98" fill="#e88c70"/>
<rect x="120" y="32" width="745" height="660" fill="url(#gr)"/>
<rect x="903" y="93" width="27" height="248" fill="url(#cbC)"/>
<g font-size="16" fill="#333"><text x="933" y="98">1</text><text x="933" y="160">-0.5</text><text x="933" y="222">-0</text><text x="933" y="285">-0.5</text><text x="933" y="345">-0.99</text></g>
</g>
</svg>
</body></html>
